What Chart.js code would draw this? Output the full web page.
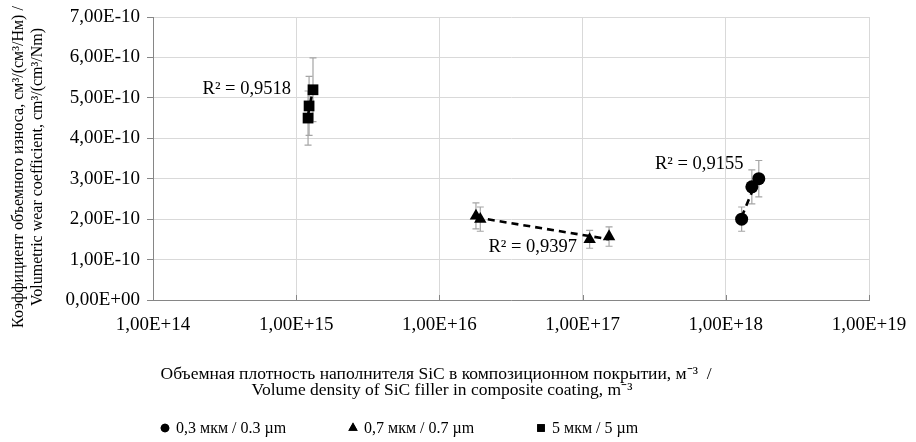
<!DOCTYPE html>
<html><head><meta charset="utf-8">
<script src="https://cdn.jsdelivr.net/npm/chart.js@4.4.1/dist/chart.umd.min.js"></script>
<style>html,body{margin:0;padding:0;background:#fff}#wrap{width:916px;height:442px;position:relative}</style>
</head><body><div id="wrap"><canvas id="c" width="916" height="442"></canvas></div>
<script>
// ---- data ----
const seriesNames = ['0,3 мкм / 0.3 µm', '0,7 мкм / 0.7 µm', '5 мкм / 5 µm'];
const circleX = [1.29e18, 1.52e18, 1.70e18];
const circleY = [2.0e-10, 2.8e-10, 3.0e-10];
const circleErr = [0.30e-10, 0.42e-10, 0.45e-10];
const triX = [1.80e16, 1.93e16, 1.12e17, 1.53e17];
const triY = [2.08e-10, 2.0e-10, 1.5e-10, 1.57e-10];
const triErr = [0.32e-10, 0.30e-10, 0.22e-10, 0.24e-10];
const sqX = [1.21e15, 1.23e15, 1.31e15];
const sqY = [4.5e-10, 4.8e-10, 5.2e-10];
const sqErr = [0.67e-10, 0.73e-10, 0.79e-10];
const r2Texts = ['R² = 0,9155', 'R² = 0,9397', 'R² = 0,9518'];
const xTickValues = [1e14, 1e15, 1e16, 1e17, 1e18, 1e19];
const xTickLabels = ['1,00E+14', '1,00E+15', '1,00E+16', '1,00E+17', '1,00E+18', '1,00E+19'];
const yTickValues = [0, 1e-10, 2e-10, 3e-10, 4e-10, 5e-10, 6e-10, 7e-10];
const yTickLabels = ['0,00E+00', '1,00E-10', '2,00E-10', '3,00E-10', '4,00E-10', '5,00E-10', '6,00E-10', '7,00E-10'];
const xTitle = ['Объемная плотность наполнителя SiC в композиционном покрытии, м⁻³  /', 'Volume density of SiC filler in composite coating, m⁻³'];
const yTitle = ['Коэффициент объемного износа, см³/(см³/Нм) /', 'Volumetric wear coefficient, cm³/(cm³/Nm)'];

// ---- helpers ----
const SERIF = '"Liberation Serif", "Times New Roman", serif';
function pts(xs, ys) { return xs.map((x, i) => ({ x, y: ys[i] })); }
function logFit(xs, ys) {
  const lx = xs.map(v => Math.log10(v));
  const n = lx.length;
  const mx = lx.reduce((a, b) => a + b, 0) / n, my = ys.reduce((a, b) => a + b, 0) / n;
  let sxy = 0, sxx = 0;
  lx.forEach((v, i) => { sxy += (v - mx) * (ys[i] - my); sxx += (v - mx) * (v - mx); });
  const a = sxy / sxx, b = my - a * mx;
  const x0 = Math.min(...xs), x1 = Math.max(...xs);
  return [{ x: x0, y: a * Math.log10(x0) + b }, { x: x1, y: a * Math.log10(x1) + b }];
}
const trendStyle = { type: 'line', borderColor: '#000', borderWidth: 2.6, borderDash: [7, 5], pointRadius: 0, fill: false, showLine: true, order: 2 };
const markerBase = { backgroundColor: '#000', borderColor: '#000', borderWidth: 0, order: 1 };

// label anchors (data space) for the R² texts
const r2Pos = [
  { x: 3.2e17, y: 3.35e-10, align: 'left' },
  { x: 2.2e16, y: 1.31e-10, align: 'left' },
  { x: 9.2e14, y: 5.22e-10, align: 'right' }
];

const errors = [circleErr, triErr, sqErr];

const extras = {
  id: 'extras',
  beforeDatasetsDraw(chart) {
    const ctx = chart.ctx, xs = chart.scales.x, ys = chart.scales.y;
    const a = chart.chartArea;
    ctx.save();
    ctx.strokeStyle = '#868686'; ctx.lineWidth = 1;
    xTickValues.forEach(v => {
      const px = Math.round(xs.getPixelForValue(v)) + 0.5;
      ctx.beginPath(); ctx.moveTo(px, a.bottom); ctx.lineTo(px, a.bottom - 5); ctx.stroke();
    });
    ctx.strokeStyle = '#a5a5a5'; ctx.lineWidth = 1.2;
    [0, 1, 2].forEach(di => {
      const ds = chart.data.datasets[di];
      ds.data.forEach((p, i) => {
        const px = xs.getPixelForValue(p.x);
        const top = ys.getPixelForValue(p.y + errors[di][i]);
        const bot = ys.getPixelForValue(p.y - errors[di][i]);
        ctx.beginPath();
        ctx.moveTo(px, top); ctx.lineTo(px, bot);
        ctx.moveTo(px - 3.5, top); ctx.lineTo(px + 3.5, top);
        ctx.moveTo(px - 3.5, bot); ctx.lineTo(px + 3.5, bot);
        ctx.stroke();
      });
    });
    ctx.restore();
  },
  afterDraw(chart) {
    const ctx = chart.ctx, xs = chart.scales.x, ys = chart.scales.y;
    ctx.save();
    ctx.fillStyle = '#000';
    ctx.textBaseline = 'middle';
    ctx.font = '18.5px ' + SERIF;
    r2Texts.forEach((t, i) => {
      ctx.textAlign = r2Pos[i].align;
      ctx.fillText(t, xs.getPixelForValue(r2Pos[i].x), ys.getPixelForValue(r2Pos[i].y));
    });
    ctx.font = '17.5px ' + SERIF;
    ctx.textAlign = 'center';
    ctx.fillText(xTitle[0], 436, 374);
    ctx.fillText(xTitle[1], 442, 390);
    ctx.font = '16px ' + SERIF;
    ctx.save();
    ctx.translate(19, 167);
    ctx.rotate(-Math.PI / 2);
    ctx.fillText(yTitle[0], 0, 0);
    ctx.restore();
    ctx.save();
    ctx.translate(38, 167);
    ctx.rotate(-Math.PI / 2);
    ctx.fillText(yTitle[1], 0, 0);
    ctx.restore();
    const styles = ['circle', 'triangle', 'rect'];
    const radii = [4.3, 5.4, 5.4];
    const lx = [165, 353, 541];
    ctx.textAlign = 'left';
    ctx.font = '16px ' + SERIF;
    seriesNames.forEach((name, i) => {
      Chart.helpers.drawPoint(ctx, { pointStyle: styles[i], radius: radii[i], borderWidth: 0 }, lx[i], 428);
      ctx.fill();
      ctx.fillText(name, lx[i] + 11, 429);
    });
    ctx.restore();
  }
};

new Chart(document.getElementById('c'), {
  type: 'scatter',
  data: {
    datasets: [
      { label: seriesNames[0], data: pts(circleX, circleY), pointStyle: 'circle', pointRadius: 6.5, pointHoverRadius: 6.5, ...markerBase },
      { label: seriesNames[1], data: pts(triX, triY), pointStyle: 'triangle', pointRadius: 7.2, pointHoverRadius: 7.2, ...markerBase },
      { label: seriesNames[2], data: pts(sqX, sqY), pointStyle: 'rect', pointRadius: 7.6, pointHoverRadius: 7.6, ...markerBase },
      { label: 't1', data: logFit(circleX, circleY), ...trendStyle },
      { label: 't2', data: logFit(triX, triY), ...trendStyle },
      { label: 't3', data: logFit(sqX, sqY), ...trendStyle }
    ]
  },
  options: {
    responsive: false,
    animation: false,
    layout: { padding: { top: 17, right: 47, bottom: 0, left: 0 } },
    plugins: { legend: { display: false }, tooltip: { enabled: false } },
    scales: {
      x: {
        type: 'logarithmic', min: 1e14, max: 1e19,
        afterBuildTicks: s => { s.ticks = xTickValues.map(v => ({ value: v })); },
        afterFit: s => { s.height = 142; s.paddingRight = 0; s.paddingLeft = 0; },
        ticks: { color: '#000', font: { family: SERIF, size: 19 }, padding: 14, maxRotation: 0, autoSkip: false,
          callback: (v, i) => xTickLabels[i] },
        grid: { color: '#d9d9d9', lineWidth: 1, drawTicks: false },
        border: { color: '#868686', width: 1 }
      },
      y: {
        type: 'linear', min: 0, max: 7e-10,
        afterBuildTicks: s => { s.ticks = yTickValues.map(v => ({ value: v })); },
        afterFit: s => { s.width = 153; s.paddingTop = 0; s.paddingBottom = 0; },
        ticks: { color: '#000', font: { family: SERIF, size: 19 }, padding: 7, autoSkip: false,
          callback: (v, i) => yTickLabels[i] },
        grid: { color: '#d9d9d9', lineWidth: 1, tickLength: 6, tickColor: '#868686' },
        border: { color: '#868686', width: 1 }
      }
    }
  },
  plugins: [extras]
});
</script>
</body></html>
